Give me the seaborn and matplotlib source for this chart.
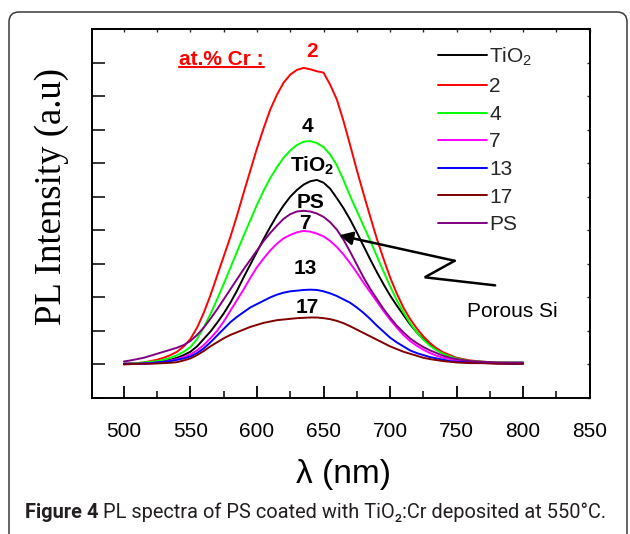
import matplotlib
matplotlib.use("Agg")
import matplotlib.pyplot as plt
import pandas as pd
import seaborn as sns
from matplotlib.lines import Line2D
from matplotlib.patches import FancyBboxPatch
from matplotlib.transforms import IdentityTransform
from matplotlib.ticker import FixedLocator, MultipleLocator

# ---------------- data ----------------
wavelength = [500, 505, 510, 515, 520, 525, 530, 535, 540, 545,
              550, 555, 560, 565, 570, 575, 580, 585, 590, 595,
              600, 605, 610, 615, 620, 625, 630, 635, 640, 645,
              650, 655, 660, 665, 670, 675, 680, 685, 690, 695,
              700, 705, 710, 715, 720, 725, 730, 735, 740, 745,
              750, 755, 760, 765, 770, 775, 780, 785, 790, 795, 800]

tio2 = [0.01, 0.01, 0.01, 0.015, 0.02, 0.03, 0.05, 0.07, 0.10, 0.14,
        0.19, 0.27, 0.38, 0.49, 0.62, 0.76, 0.92, 1.10, 1.30, 1.49,
        1.68, 1.87, 2.05, 2.22, 2.37, 2.50, 2.60, 2.68, 2.73, 2.75,
        2.71, 2.62, 2.48, 2.33, 2.16, 1.97, 1.77, 1.57, 1.38, 1.20,
        1.03, 0.88, 0.74, 0.60, 0.48, 0.38, 0.30, 0.23, 0.17, 0.12,
        0.09, 0.07, 0.05, 0.04, 0.03, 0.025, 0.02, 0.02, 0.02, 0.02, 0.02]
cr2 = [0.01, 0.015, 0.02, 0.03, 0.05, 0.07, 0.10, 0.14, 0.19, 0.27,
       0.38, 0.55, 0.77, 1.03, 1.32, 1.61, 1.90, 2.22, 2.56, 2.89,
       3.22, 3.52, 3.80, 4.02, 4.20, 4.32, 4.39, 4.42, 4.40, 4.37,
       4.35, 4.17, 3.95, 3.63, 3.27, 2.90, 2.55, 2.21, 1.88, 1.58,
       1.30, 1.06, 0.85, 0.68, 0.54, 0.42, 0.32, 0.24, 0.18, 0.14,
       0.10, 0.08, 0.06, 0.05, 0.04, 0.035, 0.03, 0.025, 0.02, 0.02, 0.02]
cr4 = [0.01, 0.015, 0.02, 0.03, 0.04, 0.05, 0.07, 0.10, 0.14, 0.19,
       0.26, 0.38, 0.55, 0.75, 0.97, 1.20, 1.44, 1.68, 1.92, 2.15,
       2.38, 2.59, 2.78, 2.94, 3.08, 3.19, 3.27, 3.32, 3.33, 3.30,
       3.24, 3.13, 2.97, 2.75, 2.51, 2.29, 2.07, 1.85, 1.62, 1.39,
       1.17, 0.96, 0.78, 0.62, 0.48, 0.37, 0.28, 0.21, 0.16, 0.12,
       0.09, 0.07, 0.05, 0.045, 0.04, 0.035, 0.03, 0.03, 0.03, 0.03, 0.03]
cr7 = [0.01, 0.01, 0.01, 0.015, 0.02, 0.03, 0.04, 0.06, 0.08, 0.11,
       0.15, 0.21, 0.29, 0.39, 0.50, 0.64, 0.80, 0.96, 1.12, 1.29,
       1.45, 1.58, 1.70, 1.80, 1.88, 1.93, 1.97, 1.99, 1.98, 1.95,
       1.91, 1.84, 1.75, 1.64, 1.51, 1.37, 1.22, 1.08, 0.94, 0.80,
       0.67, 0.55, 0.44, 0.35, 0.28, 0.22, 0.17, 0.13, 0.10, 0.08,
       0.06, 0.05, 0.04, 0.035, 0.03, 0.025, 0.02, 0.02, 0.02, 0.02, 0.02]
cr13 = [0.01, 0.01, 0.01, 0.015, 0.02, 0.03, 0.04, 0.05, 0.07, 0.09,
        0.12, 0.17, 0.24, 0.33, 0.43, 0.53, 0.63, 0.71, 0.78, 0.85,
        0.90, 0.95, 1.00, 1.04, 1.07, 1.09, 1.10, 1.11, 1.115, 1.11,
        1.09, 1.06, 1.02, 0.97, 0.92, 0.85, 0.77, 0.68, 0.58, 0.49,
        0.40, 0.33, 0.27, 0.21, 0.17, 0.14, 0.11, 0.09, 0.07, 0.05,
        0.04, 0.035, 0.03, 0.025, 0.02, 0.02, 0.02, 0.015, 0.01, 0.01, 0.01]
cr17 = [0.00, 0.005, 0.01, 0.01, 0.01, 0.015, 0.02, 0.025, 0.035, 0.06,
        0.09, 0.14, 0.20, 0.27, 0.33, 0.39, 0.44, 0.48, 0.52, 0.56,
        0.59, 0.62, 0.64, 0.66, 0.67, 0.68, 0.69, 0.695, 0.70, 0.70,
        0.69, 0.675, 0.65, 0.615, 0.57, 0.52, 0.47, 0.42, 0.37, 0.32,
        0.27, 0.23, 0.19, 0.16, 0.13, 0.10, 0.08, 0.065, 0.05, 0.04,
        0.03, 0.025, 0.02, 0.02, 0.02, 0.015, 0.01, 0.01, 0.01, 0.01, 0.01]
ps = [0.045, 0.06, 0.08, 0.10, 0.13, 0.16, 0.19, 0.22, 0.25, 0.29,
      0.35, 0.44, 0.55, 0.68, 0.82, 0.97, 1.12, 1.27, 1.42, 1.56,
      1.70, 1.84, 1.96, 2.07, 2.17, 2.24, 2.28, 2.29, 2.28, 2.25,
      2.20, 2.12, 2.01, 1.86, 1.68, 1.49, 1.30, 1.13, 0.98, 0.83,
      0.70, 0.58, 0.48, 0.39, 0.32, 0.26, 0.21, 0.17, 0.13, 0.10,
      0.08, 0.065, 0.05, 0.045, 0.04, 0.035, 0.03, 0.03, 0.03, 0.03, 0.03]

series_names = ["TiO$_2$", "2", "4", "7", "13", "17", "PS"]
series_values = [tio2, cr2, cr4, cr7, cr13, cr17, ps]
series_colors = ["#000000", "#ff0000", "#00ff00", "#ff00ff", "#0000ff", "#800000", "#800080"]

x_ticks = [500, 550, 600, 650, 700, 750, 800, 850]

# ---------------- style ----------------
sns.set_theme(style="white")
plt.rcParams["font.family"] = ["Liberation Sans", "DejaVu Sans"]
plt.rcParams["mathtext.fontset"] = "custom"
plt.rcParams["mathtext.rm"] = "Liberation Sans"
plt.rcParams["mathtext.it"] = "Liberation Sans:italic"
plt.rcParams["mathtext.bf"] = "Liberation Sans:bold"

W, H = 630, 534
fig = plt.figure(figsize=(W / 100, H / 100), dpi=100)
fig.patch.set_facecolor("white")
ax = fig.add_axes([92 / W, 1 - 398 / H, 498 / W, 369 / H])
ax.set_facecolor("white")

df = pd.DataFrame({
    "wavelength": wavelength * len(series_names),
    "intensity": sum(series_values, []),
    "sample": sum([[n] * len(wavelength) for n in series_names], []),
})
sns.lineplot(data=df, x="wavelength", y="intensity", hue="sample",
             hue_order=series_names, palette=dict(zip(series_names, series_colors)),
             estimator=None, sort=False, lw=1.4, legend=False, ax=ax)

ax.set_xlim(476, 850.3)
ax.set_ylim(-0.5, 5.0)
ax.set_xlabel("")
ax.set_ylabel("")

ax.xaxis.set_major_locator(FixedLocator(x_ticks))
ax.xaxis.set_minor_locator(MultipleLocator(25))
ax.yaxis.set_major_locator(MultipleLocator(0.5))
ax.set_yticklabels([])
ax.tick_params(axis="x", which="major", direction="in", length=9, width=1.3,
               labelsize=15, pad=17.5, colors="black", bottom=True)
ax.tick_params(axis="x", which="minor", direction="in", length=5, width=1.3, bottom=True)
ax.tick_params(axis="y", which="major", direction="in", length=9, width=1.3, left=True,
               labelleft=False)
for s in ax.spines.values():
    s.set_color("black")
    s.set_linewidth(1.4)

secx = ax.secondary_xaxis("top")
secx.xaxis.set_major_locator(MultipleLocator(25))
secx.tick_params(direction="in", length=2.5, width=1, labeltop=False)
secy = ax.secondary_yaxis("right")
secy.yaxis.set_major_locator(MultipleLocator(0.5))
secy.tick_params(direction="in", length=2.5, width=1, labelright=False)

# legend (first entry sits a little apart, as in the original)
handles = [Line2D([], [], color=c, lw=1.4) for c in series_colors]
leg_kw = dict(loc="upper left", frameon=False, fontsize=15, handlelength=2.35,
              handletextpad=0.1, labelspacing=0.41, borderpad=0, borderaxespad=0)
leg1 = ax.legend(handles[:1], series_names[:1], bbox_to_anchor=(0.695, 0.955), **leg_kw)
ax.add_artist(leg1)
ax.legend(handles[1:], series_names[1:], bbox_to_anchor=(0.695, 0.869), **leg_kw)

# curve labels
lab = dict(fontsize=15, fontweight="bold", ha="center", va="center")
ax.text(573.4, 4.54, "at.% Cr :", color="red", **lab)
ax.plot([541.75, 605], [4.43, 4.43], color="red", lw=1.5)
ax.text(641.5, 4.66, "2", color="red", **lab)
ax.text(638, 3.55, "4", color="black", **lab)
ax.text(625, 2.87, r"$\mathbf{TiO_2}$", color="black", fontsize=15, ha="left", va="baseline")
ax.text(640.6, 2.41, "PS", color="black", **lab)
ax.text(636.3, 2.10, "7", color="black", **lab)
ax.text(636.3, 1.43, "13", color="black", **lab)
ax.text(637.5, 0.855, "17", color="black", **lab)

# arrow to PS curve
ax.plot([779, 726.1, 748.6], [1.179, 1.299, 1.545], color="black", lw=1.8,
        solid_joinstyle="miter")
ax.annotate("", xy=(661.8, 1.925), xytext=(748.6, 1.545),
            arrowprops=dict(arrowstyle="-|>", color="black", lw=1.8,
                            mutation_scale=20, shrinkA=0, shrinkB=0))
ax.text(791.75, 0.79, "Porous Si", fontsize=15, ha="center", va="center", color="black")

# axis titles
fig.text(52 / W, 1 - 196.5 / H, "PL Intensity (a.u)", rotation=90, ha="center",
         va="center", fontsize=26.5, family="Liberation Serif", color="black")
fig.text(344 / W, 1 - 474 / H, "λ (nm)", ha="center", va="center", fontsize=24,
         color="black")

# caption
cap_color = "#231f20"
cap_font = "Roboto"
t1 = fig.text(25 / W, 1 - 518 / H, "Figure 4", fontsize=12, fontweight="bold",
              family=cap_font, color=cap_color, va="baseline", ha="left")
t2 = fig.text(0, 1 - 518 / H, " PL spectra of PS coated with TiO\u2082:Cr deposited at 550\u00b0C.",
              fontsize=12, family=cap_font, color=cap_color, va="baseline", ha="left")
fig.canvas.draw()
r = fig.canvas.get_renderer()
w1 = t1.get_window_extent(r).width
w2 = t2.get_window_extent(r).width
scale = 580 / (w1 + w2)
t1.set_fontsize(12 * scale)
t2.set_fontsize(12 * scale)
fig.canvas.draw()
w1 = t1.get_window_extent(r).width
t2.set_x((25 + w1) / W)

# rounded border
border = FancyBboxPatch((9, -12), 618, 534, boxstyle="round,pad=0,rounding_size=10",
                        transform=IdentityTransform(), fill=False, ec="#3a3a3a", lw=1.1)
fig.add_artist(border)

fig.savefig("out.png", dpi=100, facecolor="white")
